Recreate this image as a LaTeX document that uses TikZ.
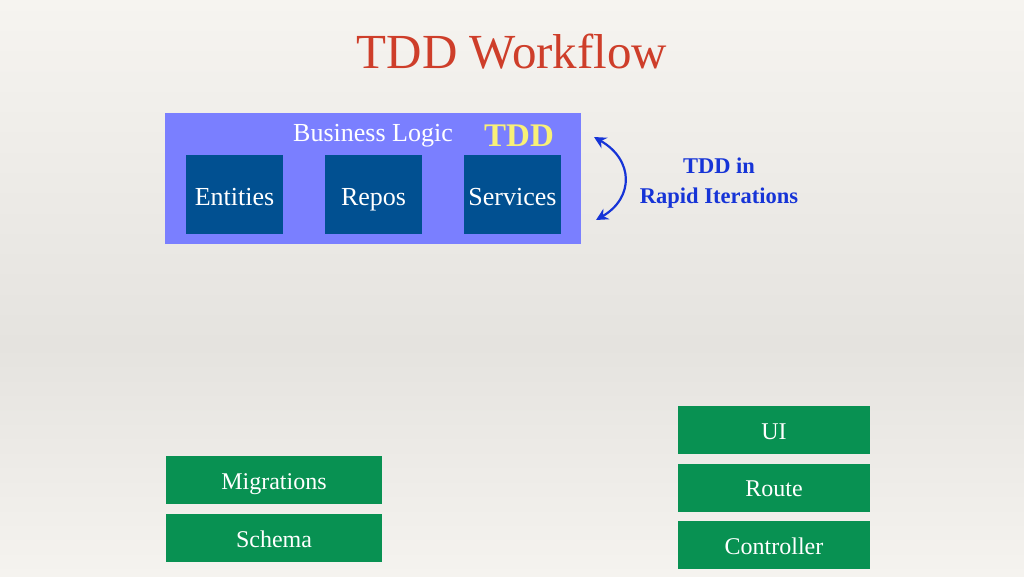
\documentclass[tikz,border=0pt]{standalone}
\usepackage{fontspec}
\setmainfont{Liberation Serif}
\usepackage{xcolor}
\usetikzlibrary{shapes.geometric, arrows, arrows.meta}
\usetikzlibrary{positioning}
\definecolor{bgTop}{RGB}{246,244,240}
\definecolor{bgMid}{RGB}{229,227,223}
\definecolor{bgBot}{RGB}{245,243,239}
\definecolor{titleRed}{RGB}{206,62,42}
\definecolor{logicBlue}{RGB}{122,127,255}
\definecolor{partBlue}{RGB}{1,80,145}
\definecolor{tddYellow}{RGB}{248,240,120}
\definecolor{noteBlue}{RGB}{22,52,215}
\definecolor{brickGreen}{RGB}{8,145,82}
\tikzstyle{layer} = [rectangle, minimum width=416pt, minimum height=131pt, fill=logicBlue]
\tikzstyle{part} = [rectangle, minimum width=97pt, minimum height=79pt, fill=partBlue, text=white, text height=22pt, text depth=1pt, font=\fontsize{26}{30}\selectfont]
\tikzstyle{brick} = [rectangle, minimum height=48pt, fill=brickGreen, text=white, text height=19pt, text depth=1pt, font=\fontsize{24}{28}\selectfont]
\tikzstyle{cycleArrow} = [line width=2.2pt, {Stealth[length=12pt,width=12pt]}-{Stealth[length=12pt,width=12pt]}, draw=noteBlue]

\begin{document}
\begin{tikzpicture}[x=1pt, y=-1pt, node distance=139pt]
    \shade [top color=bgTop, bottom color=bgMid] (0,0) rectangle (1024,345);
    \shade [top color=bgMid, bottom color=bgBot] (0,345) rectangle (1024,576);
    \useasboundingbox (0,0) rectangle (1024,576);
    \node (title) at (512,52) [text=titleRed, font=\fontsize{49}{56}\selectfont] {TDD Workflow};
    % business logic block
    \node (logic) at (373,178.5) [layer] {};
    \node (entities) at (234.5,194.5) [part] {Entities};
    \node (repos) [part, right of = entities] {Repos};
    \node (services) [part, right of = repos] {Services};
    \node (bl) at (373,136) [text=white, font=\fontsize{26}{30}\selectfont] {Business Logic};
    \node (tdd) at (519,136) [text=tddYellow, font=\bfseries\fontsize{33}{36}\selectfont] {TDD};
    \coordinate (up) at (594,137);
    \coordinate (down) at (596,220);
    \draw [cycleArrow] (up) .. controls (634,160) and (634,198) .. (down);
    \node (note) at (719,183) [align=center, text=noteBlue, font=\bfseries\fontsize{22.5}{30}\selectfont] {TDD in\\Rapid Iterations};
    % data layer
    \node (migrations) at (274,480) [brick, minimum width=216pt] {Migrations};
    \node (schema) [brick, minimum width=216pt, below of = migrations, node distance=58pt] {Schema};
    % web layer
    \node (ui) at (774,430) [brick, minimum width=192pt] {UI};
    \node (route) [brick, minimum width=192pt, below of = ui, node distance=57.5pt] {Route};
    \node (controller) [brick, minimum width=192pt, below of = route, node distance=57.5pt] {Controller};
\end{tikzpicture}
\end{document}
